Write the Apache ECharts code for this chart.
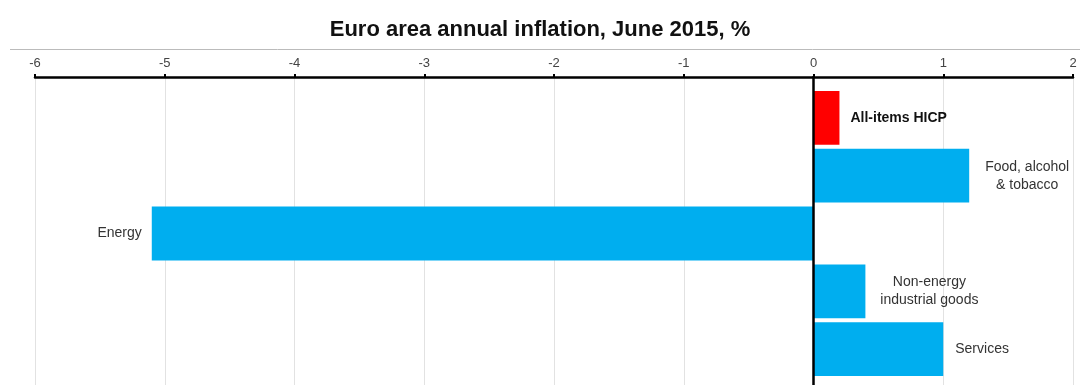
<!DOCTYPE html>
<html>
<head>
<meta charset="utf-8">
<script src="https://cdn.jsdelivr.net/npm/echarts@6/dist/echarts.min.js"></script>
<style>
html,body{margin:0;padding:0;background:#fff}
#main{width:1080px;height:385px}
</style>
</head>
<body>
<div id="main"></div>
<script>
var categories=['All-items HICP','Food, alcohol & tobacco','Energy','Non-energy industrial goods','Services']
var labelTexts=['All-items HICP','Food, alcohol\n& tobacco','Energy','Non-energy\nindustrial goods','Services']
var values=[0.2,1.2,-5.1,0.4,1.0]
var xTicks=[-6,-5,-4,-3,-2,-1,0,1,2]

var chart=echarts.init(document.getElementById('main'))
var font='"Liberation Sans", Arial, sans-serif'

// label placement per bar
var labelCfg=[
  {position:'right',distance:11,align:'left',fontWeight:'bold',color:'#111'},
  {position:'right',distance:58,align:'center'},
  {position:'left',distance:10,align:'right'},
  {position:'right',distance:64,align:'center'},
  {position:'right',distance:12,align:'left'}
]

var barData=values.map(function(v,i){
  var c=labelCfg[i]
  return {
    value:v,
    itemStyle:{color:i==0?'#ff0000':'#00aeef'},
    label:{
      show:true,
      position:c.position,
      distance:c.distance,
      align:c.align,
      formatter:labelTexts[i],
      fontFamily:font,
      fontSize:14,
      lineHeight:18,
      fontWeight:c.fontWeight||'normal',
      color:c.color||'#333'
    }
  }
})

var option={
  animation:false,
  title:{
    text:'Euro area annual inflation, June 2015, %',
    left:'center',
    top:14,
    textStyle:{fontFamily:font,fontSize:22,fontWeight:'bold',color:'#111'}
  },
  graphic:[{
    type:'line',
    shape:{x1:10,y1:49.5,x2:1080,y2:49.5},
    style:{stroke:'#bbb',lineWidth:1}
  }],
  grid:[
    {left:35,right:7,top:77,bottom:0},
    {left:35,right:7,top:89,bottom:7}
  ],
  xAxis:[
    {
      gridIndex:0,type:'value',position:'top',
      min:xTicks[0],max:xTicks[xTicks.length-1],interval:1,
      axisLine:{show:true,onZero:false,lineStyle:{color:'#000',width:2.5}},
      axisTick:{show:true,length:3,lineStyle:{color:'#000',width:2}},
      axisLabel:{fontFamily:font,fontSize:13,color:'#444',margin:7},
      splitLine:{show:true,lineStyle:{color:'#e2e2e2',width:1}}
    },
    {
      gridIndex:1,type:'value',
      min:xTicks[0],max:xTicks[xTicks.length-1],interval:1,
      show:false
    }
  ],
  yAxis:[
    {
      gridIndex:0,type:'category',data:categories,inverse:true,z:5,
      axisLine:{show:true,onZero:true,lineStyle:{color:'#000',width:2.5}},
      axisTick:{show:false},axisLabel:{show:false},splitLine:{show:false}
    },
    {
      gridIndex:1,type:'category',data:categories,inverse:true,show:false
    }
  ],
  series:[
    {
      type:'bar',
      xAxisIndex:1,yAxisIndex:1,
      barCategoryGap:'7%',
      data:barData,
      z:2
    }
  ]
}
chart.setOption(option)
</script>
</body>
</html>
